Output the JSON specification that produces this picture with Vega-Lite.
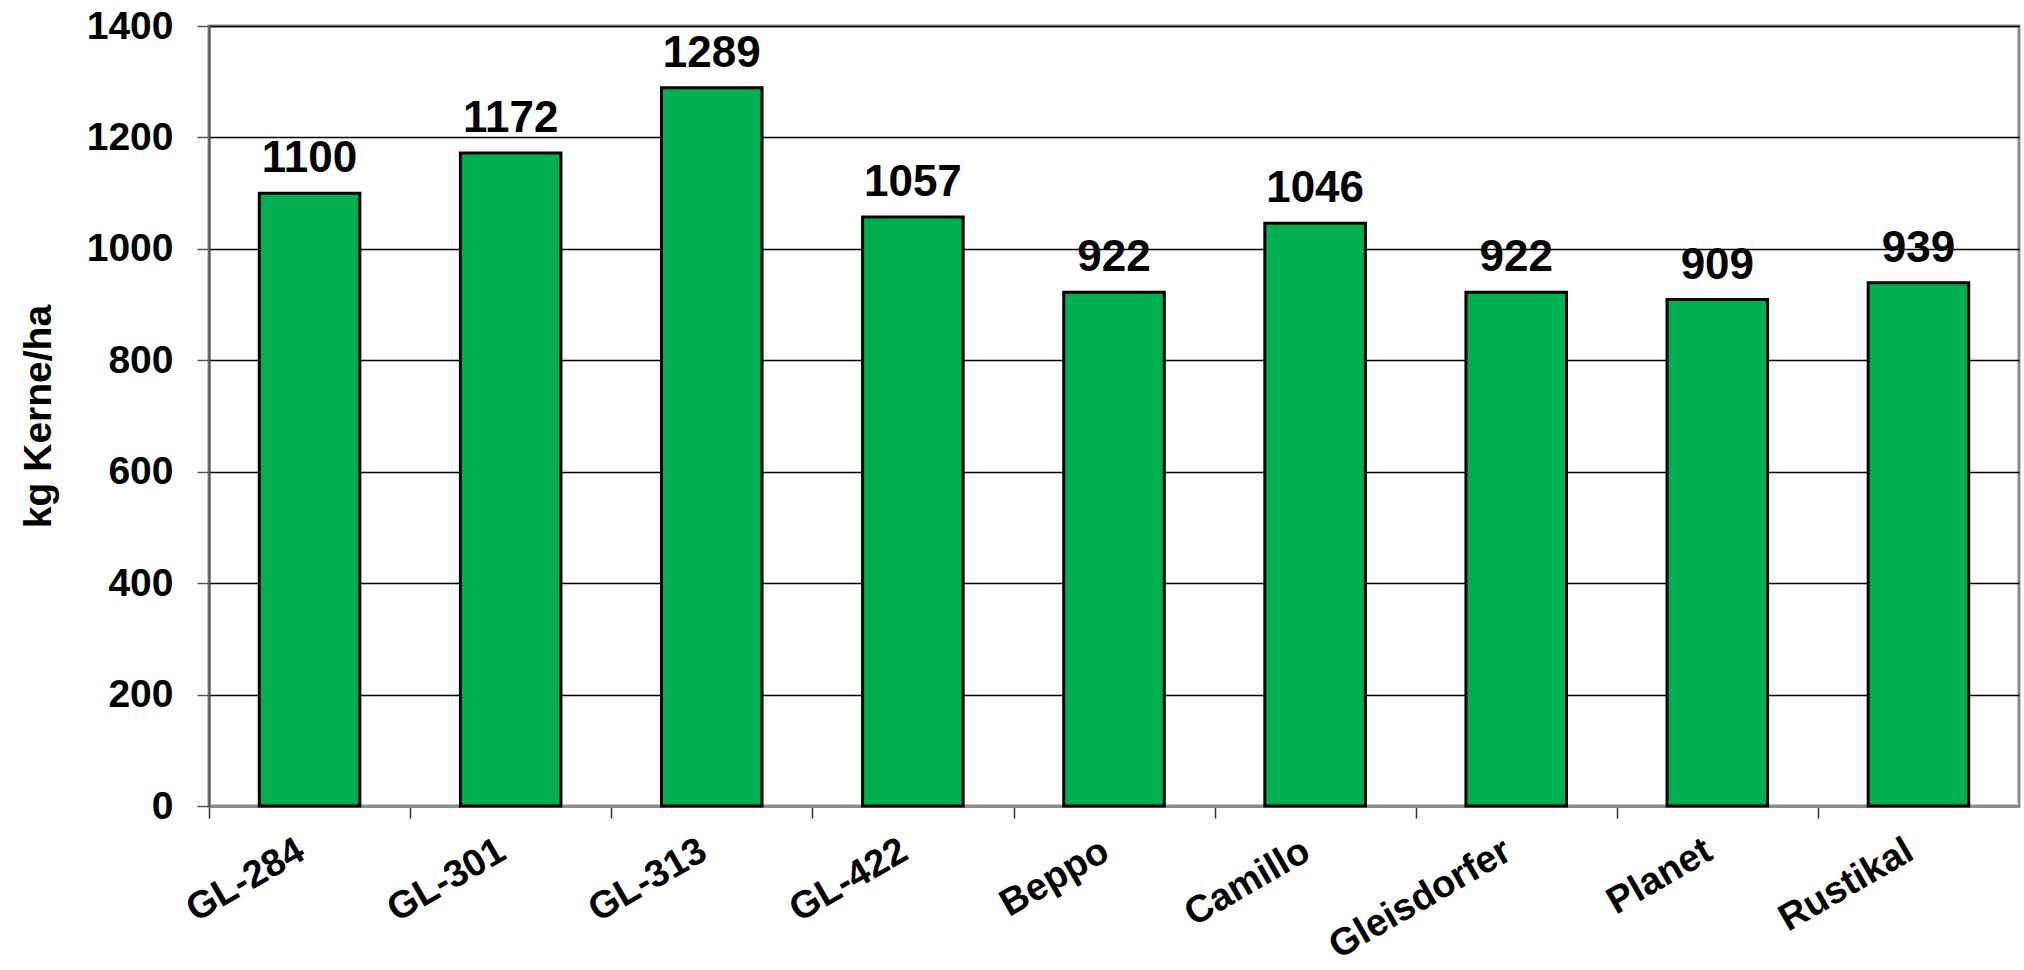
{
  "$schema": "https://vega.github.io/schema/vega-lite/v6.json",
  "width": 1810,
  "height": 780,
  "autosize": {"type": "none"},
  "padding": {"left": 209, "top": 26, "right": 5, "bottom": 164},
  "background": "white",
  "config": {
    "font": "Liberation Sans",
    "view": {"stroke": "#8c8c8c", "strokeWidth": 3}
  },
  "data": {
    "values": [
      {"sorte": "GL-284", "ertrag": 1100},
      {"sorte": "GL-301", "ertrag": 1172},
      {"sorte": "GL-313", "ertrag": 1289},
      {"sorte": "GL-422", "ertrag": 1057},
      {"sorte": "Beppo", "ertrag": 922},
      {"sorte": "Camillo", "ertrag": 1046},
      {"sorte": "Gleisdorfer", "ertrag": 922},
      {"sorte": "Planet", "ertrag": 909},
      {"sorte": "Rustikal", "ertrag": 939}
    ]
  },
  "encoding": {
    "x": {
      "field": "sorte",
      "type": "nominal",
      "sort": null,
      "scale": {"paddingInner": 0.5, "paddingOuter": 0.25},
      "axis": {
        "title": null,
        "labelAngle": -30,
        "labelAlign": "right",
        "labelBaseline": "middle",
        "labelFont": "Liberation Sans",
        "labelFontWeight": "bold",
        "labelFontSize": 38,
        "labelColor": "#000000",
        "labelPadding": 30,
        "labelLimit": 0,
        "labelOffset": 92,
        "tickOffset": -100.5,
        "tickSize": 12,
        "tickColor": "#333333",
        "tickWidth": 1.5,
        "domainColor": "#8c8c8c",
        "domainWidth": 3,
        "grid": false
      }
    },
    "y": {
      "field": "ertrag",
      "type": "quantitative",
      "scale": {"domain": [0, 1400], "nice": false},
      "axis": {
        "title": "kg Kerne/ha",
        "titleFont": "Liberation Sans",
        "titleFontWeight": "bold",
        "titleFontSize": 39,
        "titleColor": "#000000",
        "titlePadding": 28,
        "values": [0, 200, 400, 600, 800, 1000, 1200, 1400],
        "format": "d",
        "labelFont": "Liberation Sans",
        "labelFontWeight": "bold",
        "labelFontSize": 39,
        "labelColor": "#000000",
        "labelPadding": 24,
        "tickSize": 12,
        "tickColor": "#555555",
        "tickWidth": 1.5,
        "domainColor": "#555555",
        "domainWidth": 2,
        "grid": true,
        "gridColor": "#000000",
        "gridWidth": 1.3
      }
    }
  },
  "layer": [
    {
      "mark": {"type": "bar", "color": "#00B050", "stroke": "#000000", "strokeWidth": 3}
    },
    {
      "mark": {
        "type": "text",
        "baseline": "alphabetic",
        "dy": -21,
        "font": "Liberation Sans",
        "fontWeight": "bold",
        "fontSize": 44,
        "color": "#000000"
      },
      "encoding": {"text": {"field": "ertrag", "type": "quantitative"}}
    }
  ]
}
